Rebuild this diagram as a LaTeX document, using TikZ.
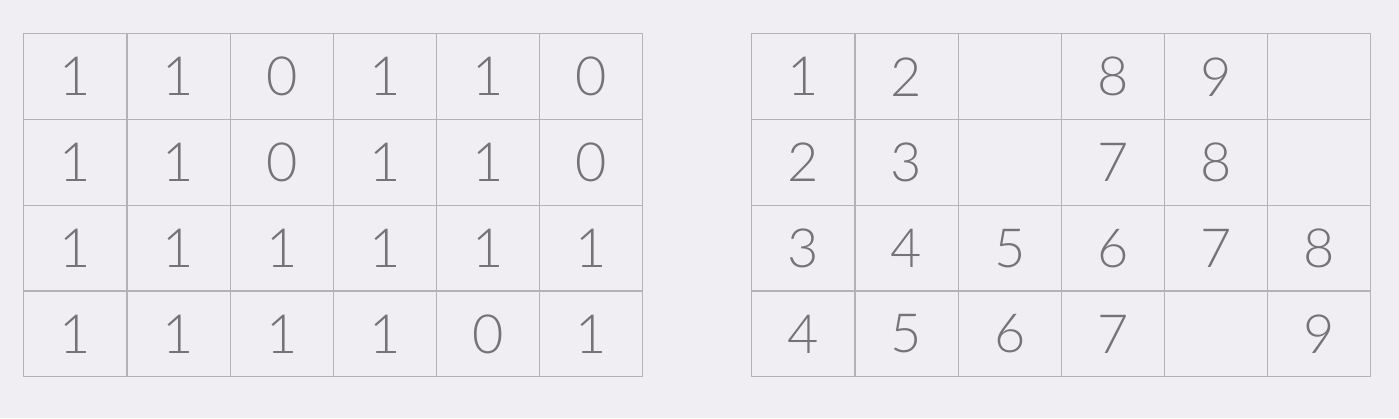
\documentclass[tikz,border=0pt]{standalone}
\usepackage{fontspec}
\setmainfont{Lato}[UprightFont={* Light}]
\usetikzlibrary{matrix, positioning}
\definecolor{paper}{HTML}{F0EEF2}
\definecolor{gridline}{HTML}{B4B2B6}
\definecolor{digit}{HTML}{747376}

\begin{document}
\begin{tikzpicture}[
    x=1pt, y=-1pt,
    % one cell of a grid
    cell/.style={
        rectangle,
        draw=gridline,
        line width=1.2pt,
        minimum width=103.17pt,
        minimum height=85.75pt,
        inner sep=0pt,
        text=digit,
        font=\fontsize{54}{60}\selectfont,
        anchor=center
    },
    % grid of cells
    grid/.style={
        matrix of nodes,
        nodes={cell},
        column sep=-1.2pt,
        row sep=-1.2pt,
        inner sep=0pt,
        anchor=north west,
        ampersand replacement=\&
    }
]

% === Background ===
\fill[paper] (0,0) rectangle (1399,418);
\useasboundingbox (0,0) rectangle (1399,418);

% === Binary grid (Left) ===
\matrix[grid] (bits) at (23,33) {
    1 \& 1 \& 0 \& 1 \& 1 \& 0 \\
    1 \& 1 \& 0 \& 1 \& 1 \& 0 \\
    1 \& 1 \& 1 \& 1 \& 1 \& 1 \\
    1 \& 1 \& 1 \& 1 \& 0 \& 1 \\
};

% === Distance grid (Right) ===
\matrix[grid] (dist) at (751,33) {
    1 \& 2 \& {} \& 8 \& 9 \& {} \\
    2 \& 3 \& {} \& 7 \& 8 \& {} \\
    3 \& 4 \& 5 \& 6 \& 7 \& 8 \\
    4 \& 5 \& 6 \& 7 \& {} \& 9 \\
};

\end{tikzpicture}
\end{document}
